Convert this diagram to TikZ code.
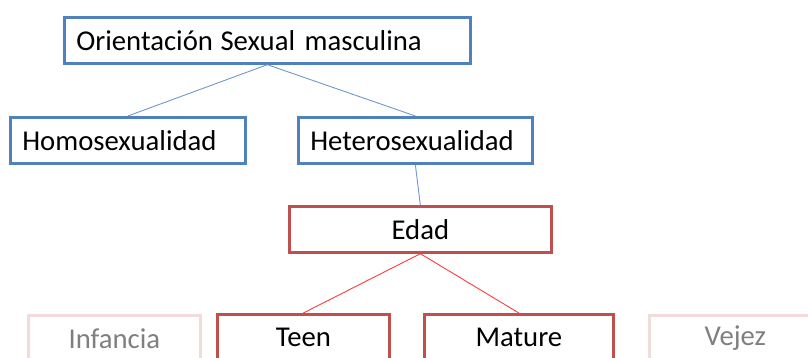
\documentclass[tikz,border=0pt]{standalone}
\usepackage{fontspec}
\setmainfont{Carlito}
\definecolor{boxblue}{HTML}{4F81BD}
\definecolor{lineblue}{HTML}{6F97CB}
\definecolor{boxred}{HTML}{C0504D}
\definecolor{linered}{HTML}{FF3B3B}
\definecolor{palered}{HTML}{F2DCDB}
\definecolor{palegrey}{HTML}{7F7F7F}

\begin{document}
\begin{tikzpicture}[
  x = 1pt, y = -1pt,
  box/.style = {rectangle, draw, line width = 2.7pt, anchor = north west,
    minimum height = 46pt, inner sep = 0pt, font = \fontsize{28.7}{34}\selectfont},
  sex/.style = {box, draw = boxblue, align = left, inner xsep = 12pt,
    text width = #1 - 24pt, minimum width = #1},
  age/.style = {box, draw = boxred, align = center, minimum width = #1},
  faded/.style = {box, draw = palered, text = palegrey, align = center, minimum width = #1},
  sexlink/.style = {draw = lineblue, line width = 0.9pt},
  agelink/.style = {draw = linered, line width = 0.9pt},
  ]
  \clip (0,0) rectangle (808,358);
  \node[sex = 406pt] (orient) at (63,16) {Orientación\hspace{-2pt} Sexual masculina};
  \node[sex = 235pt] (homo) at (9,116) {Homosexualidad};
  \node[sex = 234pt] (hetero) at (297,116) {Heterosexualidad};
  \node[age = 262pt] (edad) at (288,205) {Edad};
  \node[faded = 172pt] (infancia) at (27,314) {Infancia};
  \node[age = 172pt] (teen) at (216,313) {Teen};
  \node[age = 189pt] (mature) at (423,313) {Mature};
  \node[faded = 172pt] (vejez) at (648,314) {Vejez};

  \draw[sexlink] (orient.south) -- (homo.north);
  \draw[sexlink] (orient.south) -- (hetero.north);
  \draw[sexlink] (hetero.south) -- (edad.north);
  \draw[agelink] (edad.south) -- (teen.north);
  \draw[agelink] (edad.south) -- (mature.north);
\end{tikzpicture}
\end{document}
